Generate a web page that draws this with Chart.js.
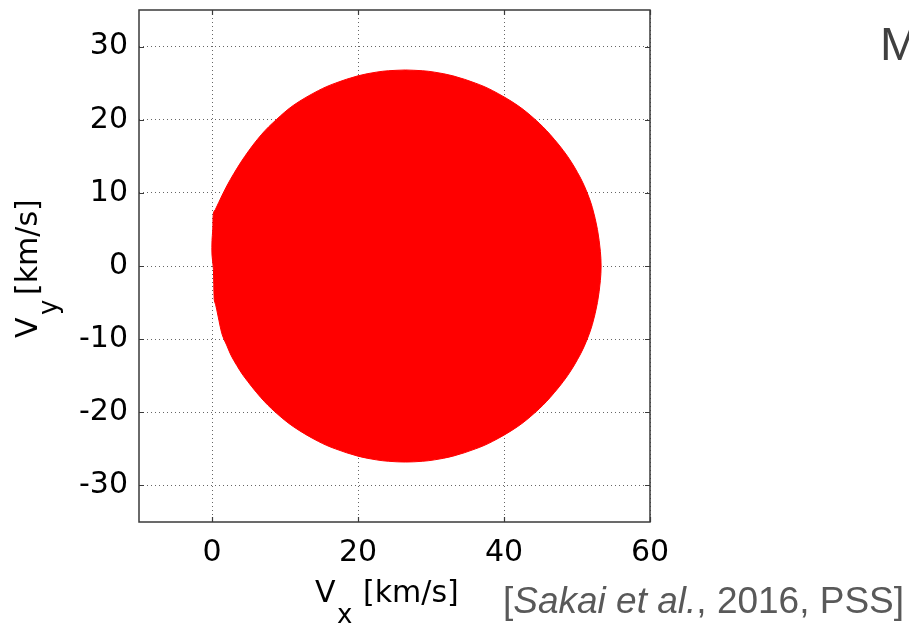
<!DOCTYPE html>
<html>
<head>
<meta charset="utf-8">
<script src="https://cdn.jsdelivr.net/npm/chart.js@4/dist/chart.umd.min.js"></script>
<style>
  html, body { margin: 0; padding: 0; background: #ffffff; }
  canvas { display: block; }
</style>
</head>
<body>
<canvas id="vel" width="909" height="625"></canvas>
<script>
// Axis ticks
const xTicks = [0, 20, 40, 60];
const yTicks = [-30, -20, -10, 0, 10, 20, 30];
const xRange = [-10, 60];
const yRange = [-35, 35];

// Outline of the velocity-space population (Vx, Vy in km/s), traced clockwise from the top
const edgeVx = [
  26.5, 28.8, 30.5, 33.0, 36.1, 38.4, 41.8, 44.3, 46.3, 48.7, 50.5, 51.4, 52.1, 52.8, 53.2, 53.3,
  53.2, 52.8, 52.1, 51.4, 50.5, 48.7, 46.3, 44.3, 41.8, 38.4, 36.1, 33.0, 30.5, 28.8, 26.5,
  24.2, 22.5, 20.0, 16.9, 14.6, 11.2, 8.7, 6.7, 4.3, 3.4, 2.6, 2.0, 1.4, 0.8, 0.5, 0.3, 0.2, 0.0, 0.0,
  0.1, 0.2, 0.45, 1.4, 2.5, 4.5, 6.8, 8.8, 11.2, 14.6, 16.9, 20.0, 22.5, 24.2, 26.5
];
const edgeVy = [
  26.8, 26.7, 26.5, 26.0, 25.0, 24.0, 22.0, 20.0, 18.0, 15.0, 12.0, 10.0, 8.0, 5.0, 2.0, 0.0,
  -2.0, -5.0, -8.0, -10.0, -12.0, -15.0, -18.0, -20.0, -22.0, -24.0, -25.0, -26.0, -26.5, -26.7, -26.8,
  -26.7, -26.5, -26.0, -25.0, -24.0, -22.0, -20.0, -18.0, -15.0, -13.6, -12.2, -10.8, -9.4, -6.7, -5.3, -4.6, -0.5, 1.5, 3.5,
  4.9, 7.3, 7.7, 9.7, 11.8, 15.0, 18.0, 20.0, 22.0, 24.0, 25.0, 26.0, 26.5, 26.7, 26.8
];

const axisFont = 'DejaVu Sans';
const boxColor = '#3a3a3a';

// Frame, inner tick marks, axis titles and slide text
const decorations = {
  id: 'decorations',
  afterDraw(chart) {
    const ctx = chart.ctx;
    const a = chart.chartArea;
    const xs = chart.scales.x, ys = chart.scales.y;
    ctx.save();
    ctx.strokeStyle = boxColor;
    ctx.lineWidth = 1.5;
    ctx.strokeRect(a.left, a.top, a.right - a.left, a.bottom - a.top);
    ctx.lineWidth = 1.2;
    ctx.beginPath();
    const tl = 5;
    xTicks.forEach(v => {
      const px = Math.round(xs.getPixelForValue(v)) + 0.5;
      ctx.moveTo(px, a.bottom); ctx.lineTo(px, a.bottom - tl);
      ctx.moveTo(px, a.top); ctx.lineTo(px, a.top + tl);
    });
    yTicks.forEach(v => {
      const py = Math.round(ys.getPixelForValue(v)) + 0.5;
      ctx.moveTo(a.left, py); ctx.lineTo(a.left + tl, py);
      ctx.moveTo(a.right, py); ctx.lineTo(a.right - tl, py);
    });
    ctx.stroke();

    // x axis title: V_x [km/s]
    ctx.fillStyle = '#000000';
    ctx.textBaseline = 'alphabetic';
    ctx.textAlign = 'left';
    const main = '30px "' + axisFont + '"';
    const sub = '26px "' + axisFont + '"';
    const x0 = 315, base = 602;
    ctx.font = main;
    ctx.fillText('V', x0, base);
    ctx.font = sub;
    ctx.fillText('x', x0 + 22, base + 21);
    ctx.font = main;
    ctx.fillText('[km/s]', x0 + 48, base);

    // y axis title: V_y [km/s], rotated
    ctx.save();
    ctx.translate(37, 338);
    ctx.rotate(-Math.PI / 2);
    ctx.font = main;
    ctx.fillText('V', 0, 0);
    ctx.font = sub;
    ctx.fillText('y', 23, 20);
    ctx.font = main;
    ctx.fillText('[km/s]', 43, 0);
    ctx.restore();

    // Reference line
    ctx.fillStyle = '#595959';
    const cite = '37px "Liberation Sans"';
    const citeIt = 'italic 37px "Liberation Sans"';
    let cx = 503;
    const cb = 613;
    ctx.font = cite; ctx.fillText('[', cx, cb); cx += ctx.measureText('[').width;
    ctx.font = citeIt; ctx.fillText('Sakai et al.', cx, cb); cx += ctx.measureText('Sakai et al.').width;
    ctx.font = cite; ctx.fillText(', 2016, PSS]', cx, cb);

    // Heading text at the right edge
    ctx.fillStyle = '#404040';
    ctx.font = '47px "Liberation Sans"';
    ctx.fillText('M', 880, 60);
    ctx.restore();
  }
};

const gridDots = {
  color: '#666666',
  lineWidth: 1,
  drawTicks: false,
  borderDash: [1, 3]
};

new Chart(document.getElementById('vel'), {
  type: 'scatter',
  data: {
    datasets: [{
      data: edgeVx.map((v, i) => ({ x: v, y: edgeVy[i] })),
      showLine: true,
      fill: 'shape',
      tension: 0.35,
      backgroundColor: '#ff0000',
      borderColor: '#ff0000',
      borderWidth: 1,
      pointRadius: 0
    }]
  },
  options: {
    responsive: false,
    animation: false,
    devicePixelRatio: 1,
    layout: { padding: { left: 0, top: 10, right: 259, bottom: 0 } },
    plugins: { legend: { display: false }, tooltip: { enabled: false } },
    scales: {
      x: {
        type: 'linear',
        min: xRange[0], max: xRange[1],
        afterBuildTicks: s => { s.ticks = xTicks.map(v => ({ value: v })); },
        afterFit: s => { s.height = 103; s.paddingLeft = 0; s.paddingRight = 0; },
        grid: gridDots,
        border: { display: false, dash: [1, 3] },
        ticks: {
          autoSkip: false, maxRotation: 0, padding: 13,
          color: '#000000',
          font: { family: axisFont, size: 30 }
        }
      },
      y: {
        type: 'linear',
        min: yRange[0], max: yRange[1],
        afterBuildTicks: s => { s.ticks = yTicks.map(v => ({ value: v })); },
        afterFit: s => { s.width = 139; s.paddingTop = 0; s.paddingBottom = 0; },
        grid: gridDots,
        border: { display: false, dash: [1, 3] },
        ticks: {
          autoSkip: false, padding: 11,
          color: '#000000',
          font: { family: axisFont, size: 30 }
        }
      }
    }
  },
  plugins: [decorations]
});
</script>
</body>
</html>
